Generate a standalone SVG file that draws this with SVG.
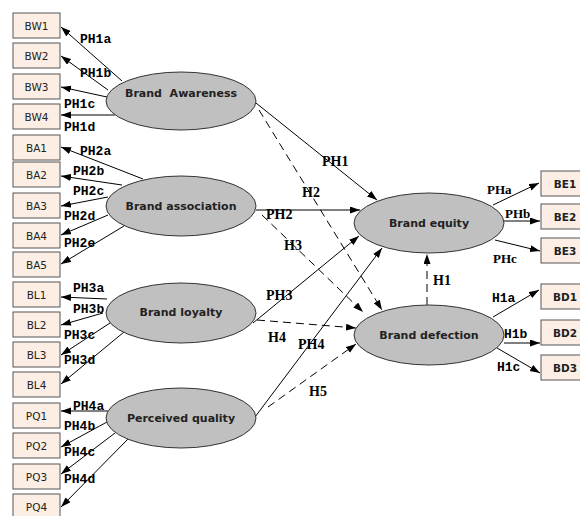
<svg xmlns="http://www.w3.org/2000/svg" width="580" height="516" viewBox="0 0 580 516">
<defs>
<marker id="ah" markerUnits="userSpaceOnUse" markerWidth="11" markerHeight="8" refX="10" refY="3.5" orient="auto"><path d="M0,0 L10,3.5 L0,7 z" fill="#000"/></marker>
<style>
.box{fill:#FCEEE4;stroke:#555;stroke-width:1}
.bt{font-family:"DejaVu Sans",sans-serif;font-size:10.5px;fill:#222;text-anchor:middle}
.btb{font-family:"DejaVu Sans",sans-serif;font-size:10.5px;font-weight:bold;fill:#222;text-anchor:middle}
.el{fill:#C0C0C0;stroke:#333;stroke-width:1}
.et{font-family:"DejaVu Sans",sans-serif;font-size:11px;font-weight:bold;fill:#222;text-anchor:middle}
.c{stroke:#000;stroke-width:1;fill:none;marker-end:url(#ah)}
.d{stroke-dasharray:8 5}
.lm{font-family:"Liberation Mono",monospace;font-size:13px;font-weight:bold;fill:#000}
.ls{font-family:"Liberation Serif",serif;font-size:14px;font-weight:bold;fill:#000}
.lr{font-family:"Liberation Serif",serif;font-size:13px;font-weight:bold;fill:#000}
</style>
</defs>
<rect width="580" height="516" fill="#fff"/>
<g id="connectors">
<line class="c" x1="122" y1="81" x2="61" y2="27"/>
<line class="c" x1="108" y1="90" x2="61" y2="56"/>
<line class="c" x1="107" y1="97" x2="61" y2="87"/>
<line class="c" x1="115" y1="115" x2="61" y2="115"/>
<line class="c" x1="143" y1="179" x2="61" y2="147"/>
<line class="c" x1="122" y1="185" x2="61" y2="176"/>
<line class="c" x1="108" y1="197" x2="61" y2="206"/>
<line class="c" x1="108" y1="215" x2="61" y2="235"/>
<line class="c" x1="124" y1="226" x2="61" y2="264"/>
<line class="c" x1="107" y1="299" x2="61" y2="297"/>
<line class="c" x1="103" y1="313" x2="61" y2="325"/>
<line class="c" x1="110" y1="323" x2="61" y2="355"/>
<line class="c" x1="124" y1="332" x2="61" y2="384"/>
<line class="c" x1="108" y1="411" x2="61" y2="411"/>
<line class="c" x1="107" y1="422" x2="61" y2="447"/>
<line class="c" x1="115" y1="433" x2="61" y2="474"/>
<line class="c" x1="128" y1="439" x2="61" y2="507"/>
<line class="c" x1="256" y1="103" x2="377" y2="200"/>
<line class="c d" x1="259" y1="110" x2="382" y2="310"/>
<line class="c" x1="256" y1="210" x2="360" y2="210"/>
<line class="c d" x1="262" y1="215" x2="363" y2="312"/>
<line class="c" x1="253" y1="323" x2="359" y2="236"/>
<line class="c" x1="255" y1="417" x2="382" y2="248"/>
<line class="c d" x1="257" y1="320" x2="356" y2="328"/>
<line class="c d" x1="268" y1="407" x2="356" y2="344"/>
<line class="c d" x1="427" y1="305" x2="427" y2="254"/>
<line class="c" x1="493" y1="205" x2="539" y2="183"/>
<line class="c" x1="504" y1="221" x2="540" y2="221"/>
<line class="c" x1="495" y1="240" x2="540" y2="251"/>
<line class="c" x1="493" y1="317" x2="539" y2="290"/>
<line class="c" x1="504" y1="343" x2="540" y2="343"/>
<line class="c" x1="497" y1="348" x2="540" y2="373"/>
</g>
<g id="labels">
<text class="lm" x="80" y="43">PH1a</text>
<text class="lm" x="80" y="77">PH1b</text>
<text class="lm" x="64" y="108">PH1c</text>
<text class="lm" x="64" y="131">PH1d</text>
<text class="lm" x="80" y="155">PH2a</text>
<text class="lm" x="73" y="175">PH2b</text>
<text class="lm" x="73" y="195">PH2c</text>
<text class="lm" x="64" y="220">PH2d</text>
<text class="lm" x="64" y="247">PH2e</text>
<text class="lm" x="73" y="292">PH3a</text>
<text class="lm" x="73" y="313">PH3b</text>
<text class="lm" x="64" y="339">PH3c</text>
<text class="lm" x="64" y="364">PH3d</text>
<text class="lm" x="73" y="410">PH4a</text>
<text class="lm" x="64" y="430">PH4b</text>
<text class="lm" x="64" y="456">PH4c</text>
<text class="lm" x="64" y="483">PH4d</text>
<text class="ls" x="322" y="166">PH1</text>
<text class="ls" x="302" y="197">H2</text>
<text class="ls" x="266" y="219">PH2</text>
<text class="ls" x="284" y="250">H3</text>
<text class="ls" x="266" y="300">PH3</text>
<text class="ls" x="268" y="342">H4</text>
<text class="ls" x="298" y="349">PH4</text>
<text class="ls" x="309" y="396">H5</text>
<text class="ls" x="433" y="285">H1</text>
<text class="lr" x="487" y="194">PHa</text>
<text class="lr" x="505" y="218">PHb</text>
<text class="lr" x="493" y="263">PHc</text>
<text class="lm" x="492" y="302">H1a</text>
<text class="lm" x="504" y="338">H1b</text>
<text class="lm" x="497" y="371">H1c</text>
</g>
<g id="BW1"><rect class="box" x="13" y="13" width="47" height="25"/><text class="bt" x="36.5" y="30">BW1</text></g>
<g id="BW2"><rect class="box" x="13" y="43" width="47" height="25"/><text class="bt" x="36.5" y="60">BW2</text></g>
<g id="BW3"><rect class="box" x="13" y="74" width="47" height="25"/><text class="bt" x="36.5" y="91">BW3</text></g>
<g id="BW4"><rect class="box" x="13" y="104" width="47" height="25"/><text class="bt" x="36.5" y="121">BW4</text></g>
<g id="BA1"><rect class="box" x="13" y="135" width="47" height="25"/><text class="bt" x="36.5" y="152">BA1</text></g>
<g id="BA2"><rect class="box" x="13" y="162" width="47" height="25"/><text class="bt" x="36.5" y="179">BA2</text></g>
<g id="BA3"><rect class="box" x="13" y="193" width="47" height="25"/><text class="bt" x="36.5" y="210">BA3</text></g>
<g id="BA4"><rect class="box" x="13" y="223" width="47" height="25"/><text class="bt" x="36.5" y="240">BA4</text></g>
<g id="BA5"><rect class="box" x="13" y="252" width="47" height="25"/><text class="bt" x="36.5" y="269">BA5</text></g>
<g id="BL1"><rect class="box" x="13" y="282" width="47" height="25"/><text class="bt" x="36.5" y="299">BL1</text></g>
<g id="BL2"><rect class="box" x="13" y="312" width="47" height="25"/><text class="bt" x="36.5" y="329">BL2</text></g>
<g id="BL3"><rect class="box" x="13" y="342" width="47" height="25"/><text class="bt" x="36.5" y="359">BL3</text></g>
<g id="BL4"><rect class="box" x="13" y="372" width="47" height="25"/><text class="bt" x="36.5" y="389">BL4</text></g>
<g id="PQ1"><rect class="box" x="13" y="403" width="47" height="25"/><text class="bt" x="36.5" y="420">PQ1</text></g>
<g id="PQ2"><rect class="box" x="13" y="433" width="47" height="25"/><text class="bt" x="36.5" y="450">PQ2</text></g>
<g id="PQ3"><rect class="box" x="13" y="464" width="47" height="25"/><text class="bt" x="36.5" y="481">PQ3</text></g>
<g id="PQ4"><rect class="box" x="13" y="494" width="47" height="25"/><text class="bt" x="36.5" y="511">PQ4</text></g>
<g id="BE1"><rect class="box" x="541" y="171" width="48" height="25"/><text class="btb" x="565" y="188">BE1</text></g>
<g id="BE2"><rect class="box" x="541" y="204" width="48" height="25"/><text class="btb" x="565" y="221">BE2</text></g>
<g id="BE3"><rect class="box" x="541" y="238" width="48" height="25"/><text class="btb" x="565" y="255">BE3</text></g>
<g id="BD1"><rect class="box" x="541" y="284" width="48" height="25"/><text class="btb" x="565" y="301">BD1</text></g>
<g id="BD2"><rect class="box" x="541" y="320" width="48" height="25"/><text class="btb" x="565" y="337">BD2</text></g>
<g id="BD3"><rect class="box" x="541" y="355" width="48" height="25"/><text class="btb" x="565" y="372">BD3</text></g>
<g id="brand-awareness"><ellipse class="el" cx="181" cy="101" rx="75" ry="29"/><text class="et" x="181" y="97" xml:space="preserve">Brand  Awareness</text></g>
<g id="brand-association"><ellipse class="el" cx="181" cy="206" rx="75" ry="30"/><text class="et" x="181" y="210">Brand association</text></g>
<g id="brand-loyalty"><ellipse class="el" cx="181" cy="313" rx="75" ry="30"/><text class="et" x="181" y="316">Brand loyalty</text></g>
<g id="perceived-quality"><ellipse class="el" cx="181" cy="418" rx="75" ry="30"/><text class="et" x="181" y="422">Perceived quality</text></g>
<g id="brand-equity"><ellipse class="el" cx="429" cy="223" rx="75" ry="30"/><text class="et" x="429" y="227">Brand equity</text></g>
<g id="brand-defection"><ellipse class="el" cx="429" cy="335" rx="75" ry="30"/><text class="et" x="429" y="339">Brand defection</text></g>
</svg>
